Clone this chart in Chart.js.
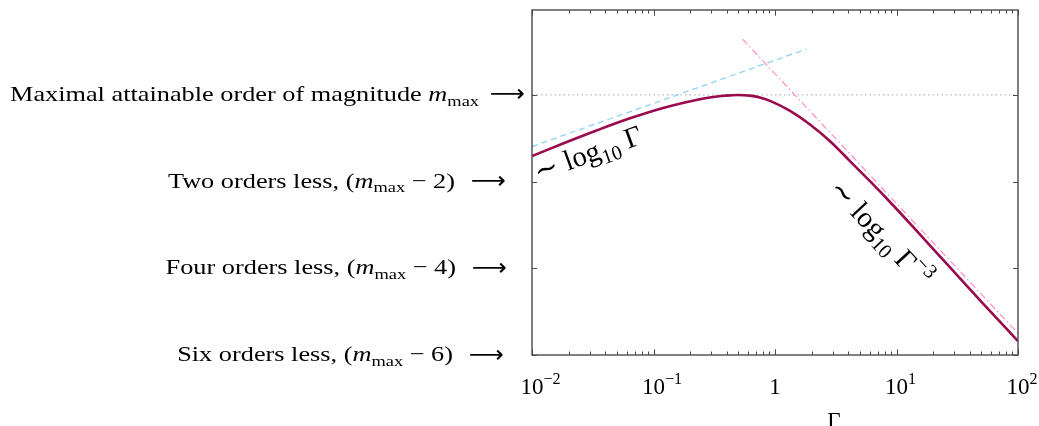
<!DOCTYPE html>
<html>
<head>
<meta charset="utf-8">
<script src="https://cdn.jsdelivr.net/npm/chart.js@4.4.0/dist/chart.umd.min.js"></script>
<style>
  html, body { margin: 0; padding: 0; background: #fff; }
  #wrap { position: relative; width: 1039px; height: 426px; }
</style>
</head>
<body>
<div id="wrap"><canvas id="chart"></canvas></div>
<script>
// curve: Gamma and order of magnitude (relative to m_max)
const gamma = [0.01, 0.018, 0.034, 0.064, 0.12, 0.23, 0.29, 0.36, 0.43, 0.5, 0.62, 0.75, 0.91,
               1.33, 1.94, 2.84, 4.14, 6.05, 8.84, 14.6, 27.6, 51.8, 100];
const order = [-1.41, -1.12, -0.82, -0.54, -0.30, -0.11, -0.058, -0.026, -0.009, 0, -0.016, -0.058, -0.137,
               -0.368, -0.68, -1.067, -1.526, -1.99, -2.47, -3.13, -3.98, -4.82, -5.68];

// asymptotes and the m_max level
const lowGamma = [0.01, 1.82];
const lowOrder = [-1.19, 1.06];
const highGamma = [0.54, 100];
const highOrder = [1.29, -5.5];
const maxGamma = [0.01, 100];
const maxOrder = [0, 0];

const xTickVals = [0.01, 0.1, 1, 10, 100];
const xTickLabels = ['10^{−2}', '10^{−1}', '1', '10^{1}', '10^{2}'];
const yTickVals = [0, -2, -4, -6];
const yTickLabels = [
  'Maximal attainable order of magnitude *m*_{max}',
  'Two orders less, (*m*_{max} − 2)',
  'Four orders less, (*m*_{max} − 4)',
  'Six orders less, (*m*_{max} − 6)'
];
const xTitle = 'Γ';
const noteLow = '∼ log_{10} Γ';
const noteHigh = '∼ log_{10} Γ^{−3}';

const FONT = '"Liberation Serif", "DejaVu Serif", serif';

function pts(xs, ys) {
  return xs.map((x, i) => ({ x: x, y: ys[i] }));
}

// tiny markup: _{sub} ^{sup} *italic*
function parseMath(str) {
  const parts = [];
  const re = /_\{([^}]*)\}|\^\{([^}]*)\}|\*([^*]*)\*/g;
  let last = 0, m;
  while ((m = re.exec(str))) {
    if (m.index > last) parts.push({ t: str.slice(last, m.index), k: 'n' });
    if (m[1] !== undefined) parts.push({ t: m[1], k: 'sub' });
    else if (m[2] !== undefined) parts.push({ t: m[2], k: 'sup' });
    else parts.push({ t: m[3], k: 'it' });
    last = re.lastIndex;
  }
  if (last < str.length) parts.push({ t: str.slice(last), k: 'n' });
  return parts;
}

function partFont(p, size) {
  const s = (p.k === 'sub' || p.k === 'sup') ? size * 0.7 : size;
  return (p.k === 'it' ? 'italic ' : '') + s + 'px ' + FONT;
}

function mathWidth(ctx, parts, size) {
  let w = 0;
  parts.forEach(p => { ctx.font = partFont(p, size); w += ctx.measureText(p.t).width; });
  return w;
}

function drawMath(ctx, parts, x, y, size) {
  let cx = x;
  parts.forEach(p => {
    ctx.font = partFont(p, size);
    const dy = p.k === 'sub' ? size * 0.22 : (p.k === 'sup' ? -size * 0.45 : 0);
    ctx.fillText(p.t, cx, y + dy);
    cx += ctx.measureText(p.t).width;
  });
  return cx;
}

const decorations = {
  id: 'decorations',
  afterDraw(chart) {
    const ctx = chart.ctx;
    const a = chart.chartArea;
    const xs = chart.scales.x, ys = chart.scales.y;
    ctx.save();
    ctx.fillStyle = '#000';
    ctx.textAlign = 'left';
    ctx.textBaseline = 'alphabetic';

    // frame
    ctx.strokeStyle = '#4a4a4a';
    ctx.lineWidth = 1.4;
    ctx.strokeRect(a.left, a.top, a.right - a.left, a.bottom - a.top);

    // inward ticks on x (major + minor), bottom and top
    ctx.lineWidth = 1;
    ctx.beginPath();
    for (let d = -2; d <= 2; d++) {
      for (let k = 1; k <= 9; k++) {
        const v = k * Math.pow(10, d);
        if (v > 100.0001) break;
        const px = Math.round(xs.getPixelForValue(v)) + 0.5;
        const len = k === 1 ? 5.7 : 3.5;
        ctx.moveTo(px, a.bottom); ctx.lineTo(px, a.bottom - len);
        ctx.moveTo(px, a.top); ctx.lineTo(px, a.top + len);
      }
    }
    yTickVals.forEach(v => {
      const py = Math.round(ys.getPixelForValue(v)) + 0.5;
      ctx.moveTo(a.left, py); ctx.lineTo(a.left + 5, py);
      ctx.moveTo(a.right, py); ctx.lineTo(a.right - 5, py);
    });
    ctx.stroke();

    // x tick labels: base centred on the tick, exponent hanging right
    xTickVals.forEach((v, i) => {
      const parts = parseMath(xTickLabels[i]);
      const size = 23;
      ctx.font = partFont(parts[0], size);
      const bw = ctx.measureText(parts[0].t).width;
      drawMath(ctx, parts, xs.getPixelForValue(v) - bw / 2, a.bottom + 39, size);
    });

    // x title
    ctx.font = '23px ' + FONT;
    ctx.textAlign = 'center';
    ctx.fillText(xTitle, 834, 428);
    ctx.textAlign = 'left';

    // y tick labels with long arrows
    const ySize = 21.5;
    const arrowRight = [525, 506, 507, 504];
    const gap = [11, 16, 16, 16];
    const first = parseMath(yTickLabels[0]);
    const stretch = 469 / mathWidth(ctx, first, ySize);
    yTickVals.forEach((v, i) => {
      const py = ys.getPixelForValue(v);
      const base = py + 6;
      // arrow
      ctx.font = (ySize + 2) + 'px "DejaVu Sans", ' + FONT;
      const aw = ctx.measureText('⟶').width;
      ctx.save();
      ctx.translate(arrowRight[i] - 35, base + 0.5);
      ctx.scale(35 / aw, 1);
      ctx.fillText('⟶', 0, 0);
      ctx.restore();
      // text
      const parts = parseMath(yTickLabels[i]);
      const w = mathWidth(ctx, parts, ySize);
      ctx.save();
      ctx.translate(arrowRight[i] - 35 - gap[i], base);
      ctx.scale(stretch, 1);
      drawMath(ctx, parts, -w, 0, ySize);
      ctx.restore();
    });

    // notes along the curve
    const notes = [
      { text: noteLow, g: 0.0112, o: -2.0, rot: -20 },
      { text: noteHigh, g: 2.72, o: -2.2, rot: 47 }
    ];
    notes.forEach(n => {
      ctx.save();
      ctx.translate(xs.getPixelForValue(n.g), ys.getPixelForValue(n.o));
      ctx.rotate(n.rot * Math.PI / 180);
      drawMath(ctx, parseMath(n.text), 0, 0, 29);
      ctx.restore();
    });

    ctx.restore();
  }
};

new Chart(document.getElementById('chart'), {
  type: 'line',
  data: {
    datasets: [
      {
        data: pts(gamma, order),
        borderColor: '#990a4e',
        borderWidth: 2.6,
        pointRadius: 0,
        cubicInterpolationMode: 'monotone',
        order: 0
      },
      {
        data: pts(highGamma, highOrder),
        borderColor: '#ff8cc2',
        borderWidth: 1.2,
        borderDash: [7, 3, 1.5, 3],
        pointRadius: 0,
        order: 1
      },
      {
        data: pts(lowGamma, lowOrder),
        borderColor: '#8fd3f7',
        borderWidth: 1.3,
        borderDash: [6, 4],
        pointRadius: 0,
        order: 2
      },
      {
        data: pts(maxGamma, maxOrder),
        borderColor: '#b8b8b8',
        borderWidth: 1.2,
        borderDash: [1.5, 3],
        pointRadius: 0,
        order: 3
      }
    ]
  },
  options: {
    responsive: true,
    maintainAspectRatio: false,
    animation: false,
    layout: { padding: { left: 532, right: 21, top: 10, bottom: 71 } },
    plugins: { legend: { display: false }, tooltip: { enabled: false } },
    scales: {
      x: { type: 'logarithmic', min: 0.01, max: 100, display: false },
      y: { type: 'linear', min: -6, max: 1.96, display: false }
    }
  },
  plugins: [decorations]
});
</script>
</body>
</html>
